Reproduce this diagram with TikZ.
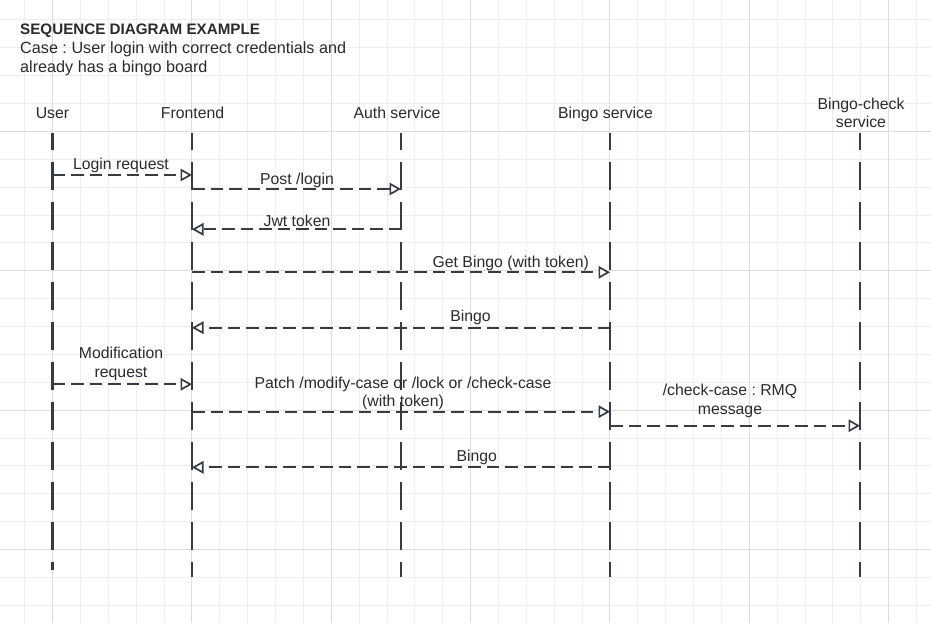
\documentclass[tikz,border=0pt]{standalone}
\usepackage{fontspec}
\setmainfont{Liberation Sans}
\usetikzlibrary{arrows.meta}
\definecolor{ink}{HTML}{373B43}
\definecolor{txt}{HTML}{2B2B2B}
\definecolor{gridminor}{HTML}{EEEEEE}
\definecolor{gridmajor}{HTML}{DDDDDD}
\frenchspacing
\begin{document}
\begin{tikzpicture}[x=1pt,y=-1pt,
  lifeline/.style={ink, line width=2.8pt, dash pattern=on 28pt off 12pt, dash phase=11pt},
  msg/.style={ink, line width=1.7pt, dash pattern=on 12.5pt off 6pt, -{Triangle[length=11.5pt,width=12.5pt,fill=white]}},
  lbl/.style={text=txt, font=\fontsize{15.8}{18.4}\selectfont, inner sep=0pt, anchor=base, align=center},
  gminor/.style={gridminor, line width=0.8pt},
  gmajor/.style={gridmajor, line width=1pt},
]
\useasboundingbox (0,0) rectangle (931,623);
\fill[white] (0,0) rectangle (931,623);
% grid
\foreach \k in {0,...,32} {\pgfmathsetmacro\xx{24.6+27.87*\k}\draw[gminor] (\xx,0) -- (\xx,623);}
\foreach \k in {0,...,21} {\pgfmathsetmacro\yy{19.9+27.87*\k}\draw[gminor] (0,\yy) -- (931,\yy);}
\foreach \k in {0,...,6} {\pgfmathsetmacro\xx{52.5+139.35*\k}\draw[gmajor] (\xx,0) -- (\xx,623);}
\foreach \k in {0,...,3} {\pgfmathsetmacro\yy{131.4+139.35*\k}\draw[gmajor] (0,\yy) -- (931,\yy);}

% title
\node[text=txt, font=\fontsize{15.2}{18}\selectfont\bfseries, inner sep=0pt, anchor=base west] (title) at (20,34.7) {SEQUENCE DIAGRAM EXAMPLE};
\node[text=txt, font=\fontsize{16.2}{18.5}\selectfont, inner sep=0pt, anchor=base west, align=left] (case) at (20,72.5) {Case : User login with correct credentials and\\already has a bingo board};

% participants
\node[lbl] (user) at (52.5,118.3) {User};
\node[lbl] (front) at (192.5,118.7) {Frontend};
\node[lbl] (auth) at (397,118.5) {Auth service};
\node[lbl] (bingo) at (605.5,118.5) {Bingo service};
\node[lbl] (check) at (861,127.7) {Bingo-check\\service};

% lifelines
\coordinate (uT) at (52.5,133); \coordinate (uB) at (52.5,570);
\coordinate (fT) at (192,133);  \coordinate (fB) at (192,577);
\coordinate (aT) at (401,133);  \coordinate (aB) at (401,577);
\coordinate (bT) at (610,133);  \coordinate (bB) at (610,577);
\coordinate (cT) at (860,133);  \coordinate (cB) at (860,577);
\draw[lifeline] (uT) -- (uB);
\draw[lifeline] (fT) -- (fB);
\draw[lifeline] (aT) -- (aB);
\draw[lifeline] (bT) -- (bB);
\draw[lifeline] (cT) -- (cB);

% messages
\coordinate (m1a) at (52.5,175);  \coordinate (m1b) at (192,175);
\coordinate (m2a) at (192,189);   \coordinate (m2b) at (401,189);
\coordinate (m3a) at (401,229.3); \coordinate (m3b) at (192,229.3);
\coordinate (m4a) at (192,272.3); \coordinate (m4b) at (610,272.3);
\coordinate (m5a) at (610,327.7); \coordinate (m5b) at (192,327.7);
\coordinate (m6a) at (52.5,384.3);\coordinate (m6b) at (192,384.3);
\coordinate (m7a) at (192,411.7); \coordinate (m7b) at (610,411.7);
\coordinate (m8a) at (610,425.7); \coordinate (m8b) at (860,425.7);
\coordinate (m9a) at (610,467.3); \coordinate (m9b) at (192,467.3);
\draw[msg] (m1a) -- (m1b);
\draw[msg] (m2a) -- (m2b);
\draw[msg] (m3a) -- (m3b);
\draw[msg] (m4a) -- (m4b);
\draw[msg] (m5a) -- (m5b);
\draw[msg] (m6a) -- (m6b);
\draw[msg] (m7a) -- (m7b);
\draw[msg] (m8a) -- (m8b);
\draw[msg] (m9a) -- (m9b);

% labels
\node[lbl] (l1) at (121,169.3) {Login request};
\node[lbl] (l2) at (297,184.5) {Post /login};
\node[lbl] (l3) at (297,226) {Jwt token};
\node[lbl] (l4) at (510.8,267) {Get Bingo (with token)};
\node[lbl] (l5) at (470.5,321.5) {Bingo};
\node[lbl] (l6) at (121,377) {Modification\\request};
\node[lbl] (l7) at (403,406.7) {Patch /modify-case or /lock or /check-case\\(with token)};
\node[lbl] (l8) at (730,414.3) {/check-case : RMQ\\message};
\node[lbl] (l9) at (476.7,461.7) {Bingo};
\end{tikzpicture}
\end{document}
